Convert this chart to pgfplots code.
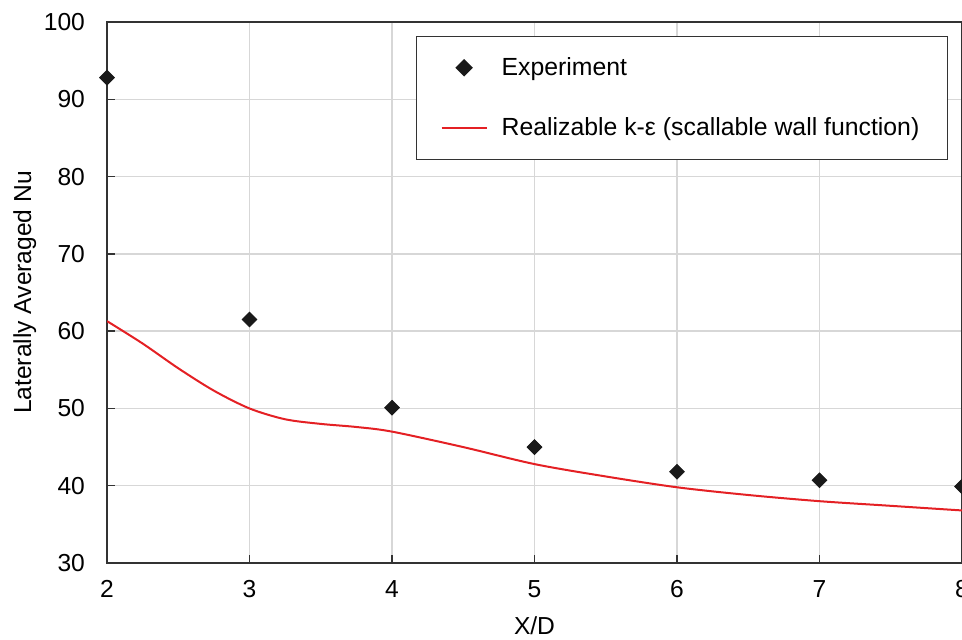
\documentclass[border=0pt]{standalone}
\usepackage{pgfplots}
\pgfplotsset{compat=1.18}
\usepackage{fontspec}
\setmainfont{Liberation Sans}
\definecolor{cfdred}{RGB}{228,32,36}
\definecolor{gridgray}{RGB}{215,215,215}
\begin{document}
\begin{tikzpicture}
\clip (-53.5pt,-38pt) rectangle (427.5pt,281.5pt);
\begin{axis}[
  at={(0pt,0pt)}, anchor=origin,
  scale only axis, width=427.5pt, height=270.5pt,
  xmin=2, xmax=8, ymin=30, ymax=100,
  xtick={2,3,4,5,6,7,8}, ytick={30,40,50,60,70,80,90,100},
  grid=major, major grid style={gridgray, line width=0.7pt},
  tick align=inside, xtick pos=bottom, ytick pos=left,
  major tick length=4pt,
  tick style={black!80, line width=0.7pt},
  axis line style={black!80, line width=0.8pt},
  /pgf/number format/assume math mode=true,
  tick label style={font=\fontsize{12.3}{14}\selectfont},
  xticklabel style={yshift=-5pt},
  yticklabel style={xshift=-7.5pt},
  label style={font=\fontsize{12.3}{14}\selectfont},
  xlabel={X/D}, ylabel={Laterally Averaged Nu},
  xlabel style={yshift=-2.5pt},
  ylabel style={yshift=-3pt},
  legend image code/.code={\draw[mark repeat=2,mark phase=2,#1] plot coordinates {(0pt,0pt) (11.25pt,0pt) (22.5pt,0pt)};},
  legend style={at={(0.9836,0.974)}, anchor=north east,
    draw=black!80, line width=0.6pt, inner xsep=12pt, inner ysep=8.3pt,
    font=\fontsize{12.4}{14}\selectfont, row sep=15.7pt, column sep=5pt,
    cells={anchor=west}},
  legend image post style={line width=1pt},
]
\addplot[only marks, mark=square*, mark size=2.6pt, mark options={rotate=45, fill=black!90, draw=black!90}]
  coordinates {(2,92.8) (3,61.5) (4,50.1) (5,45.0) (6,41.8) (7,40.7) (8,39.9)};
\addlegendentry{Experiment}
\addplot[cfdred, line width=1pt, smooth, tension=0.5, no marks]
  coordinates {(2,61.3) (2.25,58.4) (2.5,55.2) (2.75,52.3) (3,50.0) (3.25,48.6) (3.5,48.0) (3.75,47.6) (4,47.0) (4.5,45.0) (5,42.8) (5.5,41.2) (6,39.8) (6.5,38.8) (7,38.0) (7.5,37.4) (8,36.8)};
\addlegendentry{Realizable k-ε (scallable wall function)}
\end{axis}
\end{tikzpicture}
\end{document}
